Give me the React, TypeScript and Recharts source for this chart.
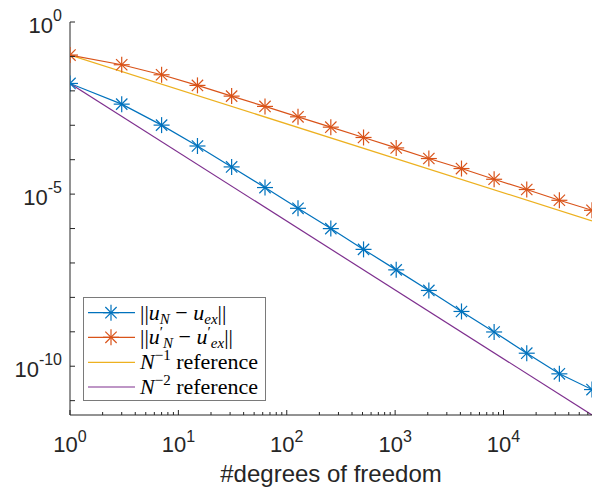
import React from 'react';
import { LineChart, Line, XAxis, YAxis, Legend } from 'recharts';

// degrees of freedom (2^k - 1)
const dofs = [1, 3, 7, 15, 31, 63, 127, 255, 511, 1023, 2047, 4095, 8191, 16383, 32767, 65535];

// ||u_N - u_ex||
const errU = [
  1.64e-2, 4.11e-3, 1.01e-3, 2.5e-4, 6.17e-5, 1.55e-5, 3.87e-6, 9.95e-7,
  2.48e-7, 6.3e-8, 1.59e-8, 3.9e-9, 9.89e-10, 2.39e-10, 6.01e-11, 2.1e-11,
];

// ||u'_N - u'_ex||
const errDu = [
  1.096e-1, 5.73e-2, 2.93e-2, 1.44e-2, 7.03e-3, 3.53e-3, 1.76e-3, 8.81e-4,
  4.42e-4, 2.2e-4, 1.08e-4, 5.53e-5, 2.7e-5, 1.36e-5, 6.62e-6, 3.39e-6,
];

// reference lines (end points)
const refDofs = [1, 65535];
const refN1 = [1.096e-1, 1.67e-6];
const refN2 = [1.64e-2, 3.83e-12];

const xMajorTicks = [1, 10, 100, 1000, 10000];
const yLabelTicks = [1, 1e-5, 1e-10];
const yTicks = [1, 1e-1, 1e-2, 1e-3, 1e-4, 1e-5, 1e-6, 1e-7, 1e-8, 1e-9, 1e-10, 1e-11];

const xTicks: number[] = [];
for (let d = 1; d <= 10000; d *= 10) {
  for (let m = 1; m <= 9; m++) {
    if (d * m <= 65535) xTicks.push(d * m);
  }
}

const colors = {
  u: '#0072BD',
  du: '#D95319',
  n1: '#EDB120',
  n2: '#7E2F8E',
  axis: '#262626',
};

const tickFont = 'Liberation Sans, Arial, sans-serif';
const mathFont = 'Liberation Serif, Times New Roman, serif';

const mainData = dofs.map((n, i) => ({ n, u: errU[i], du: errDu[i] }));
const ref1Data = refDofs.map((n, i) => ({ n, v: refN1[i] }));
const ref2Data = refDofs.map((n, i) => ({ n, v: refN2[i] }));

function exponent(v: number) {
  return String(Math.round(Math.log10(v)));
}

function Asterisk({ cx, cy, color }: { cx: number; cy: number; color: string }) {
  const r = 8;
  const d = r * 0.7071;
  return (
    <g stroke={color} strokeWidth={1.2}>
      <line x1={cx - r} y1={cy} x2={cx + r} y2={cy} />
      <line x1={cx} y1={cy - r} x2={cx} y2={cy + r} />
      <line x1={cx - d} y1={cy - d} x2={cx + d} y2={cy + d} />
      <line x1={cx - d} y1={cy + d} x2={cx + d} y2={cy - d} />
    </g>
  );
}

function makeDot(color: string) {
  return (props: any) => {
    const { cx, cy, index } = props;
    if (cx == null || cy == null) return <g key={index} />;
    return <Asterisk key={index} cx={cx} cy={cy} color={color} />;
  };
}

function XTick(props: any) {
  const { x, y, payload, top } = props;
  const v = payload.value;
  const major = xMajorTicks.includes(v);
  const len = major ? 5 : 3;
  return (
    <g>
      <line x1={x} x2={x} y1={y} y2={top ? y + len : y - len} stroke={colors.axis} strokeWidth={1} />
      {!top && major && (
        <text x={x} y={y + 37} textAnchor="middle" fontSize={22} fill={colors.axis} fontFamily={tickFont}>
          10
          <tspan dy={-10} fontSize={16}>{exponent(v)}</tspan>
        </text>
      )}
    </g>
  );
}

function YTick(props: any) {
  const { x, y, payload, right } = props;
  const v = payload.value;
  const labeled = yLabelTicks.some((t) => Math.abs(Math.log10(t) - Math.log10(v)) < 1e-6);
  return (
    <g>
      <line x1={x} x2={right ? x - 5 : x + 5} y1={y} y2={y} stroke={colors.axis} strokeWidth={1} />
      {!right && labeled && (
        <text x={x - 8} y={y + 11} textAnchor="end" fontSize={22} fill={colors.axis} fontFamily={tickFont}>
          10
          <tspan dy={-12} fontSize={16}>{exponent(v)}</tspan>
        </text>
      )}
    </g>
  );
}

function LegendBox() {
  const rowY = [15.7, 40.3, 65.3, 90];
  const it = { fontStyle: 'italic' } as const;
  const small = 15;
  const rows = [
    {
      color: colors.u,
      marker: true,
      label: (
        <>
          ||<tspan {...it}>u</tspan>
          <tspan {...it} fontSize={small} dy={4}>N</tspan>
          <tspan dy={-4}>{' − '}</tspan>
          <tspan {...it}>u</tspan>
          <tspan {...it} fontSize={small} dy={4}>ex</tspan>
          <tspan dy={-4}>||</tspan>
        </>
      ),
    },
    {
      color: colors.du,
      marker: true,
      label: (
        <>
          ||<tspan {...it}>u</tspan>
          <tspan fontSize={small} dy={-7}>′</tspan>
          <tspan {...it} fontSize={small} dy={11}>N</tspan>
          <tspan dy={-4}>{' − '}</tspan>
          <tspan {...it}>u</tspan>
          <tspan fontSize={small} dy={-7}>′</tspan>
          <tspan {...it} fontSize={small} dy={11}>ex</tspan>
          <tspan dy={-4}>||</tspan>
        </>
      ),
    },
    {
      color: colors.n1,
      marker: false,
      label: (
        <>
          <tspan {...it}>N</tspan>
          <tspan fontSize={small} dy={-9}>−1</tspan>
          <tspan dy={9}>{' reference'}</tspan>
        </>
      ),
    },
    {
      color: colors.n2,
      marker: false,
      label: (
        <>
          <tspan {...it}>N</tspan>
          <tspan fontSize={small} dy={-9}>−2</tspan>
          <tspan dy={9}>{' reference'}</tspan>
        </>
      ),
    },
  ];
  return (
    <svg width={183} height={104} style={{ display: 'block' }}>
      <rect x={0.5} y={0.5} width={182} height={103} fill="#fff" stroke="#7a7a7a" strokeWidth={1} />
      {rows.map((r, i) => (
        <g key={i}>
          <line x1={5} x2={52} y1={rowY[i]} y2={rowY[i]} stroke={r.color} strokeWidth={1.2} />
          {r.marker && <Asterisk cx={28} cy={rowY[i]} color={r.color} />}
          <text
            x={57}
            y={rowY[i] + 7}
            fontSize={22}
            fontFamily={mathFont}
            fill="#000"
            style={{ whiteSpace: 'pre' }}
          >
            {r.label}
          </text>
        </g>
      ))}
    </svg>
  );
}

export default function App() {
  return (
    <div style={{ width: 603, height: 492, background: '#fff', position: 'relative' }}>
      <style>{'body{margin:0}'}</style>
      <LineChart width={603} height={492} data={mainData} margin={{ top: 22, right: 11, left: 0, bottom: 0 }}>
        <XAxis
          xAxisId="b"
          dataKey="n"
          type="number"
          scale="log"
          domain={[1, 65535]}
          allowDataOverflow
          ticks={xTicks}
          interval={0}
          height={77}
          tickSize={0}
          tickMargin={0}
          tick={<XTick />}
          axisLine={{ stroke: colors.axis, strokeWidth: 1 }}
          label={{
            value: '#degrees of freedom',
            position: 'insideBottom',
            offset: 10,
            fontSize: 24,
            fill: colors.axis,
            fontFamily: tickFont,
          }}
        />
        <XAxis
          xAxisId="t"
          orientation="top"
          dataKey="n"
          type="number"
          scale="log"
          domain={[1, 65535]}
          allowDataOverflow
          ticks={xTicks}
          interval={0}
          height={0}
          tickSize={0}
          tickMargin={0}
          tick={<XTick top />}
          axisLine={{ stroke: colors.axis, strokeWidth: 1 }}
        />
        <YAxis
          yAxisId="l"
          type="number"
          scale="log"
          domain={[3.83e-12, 1]}
          allowDataOverflow
          ticks={yTicks}
          interval={0}
          width={70}
          tickSize={0}
          tickMargin={0}
          tick={<YTick />}
          axisLine={{ stroke: colors.axis, strokeWidth: 1 }}
        />
        <YAxis
          yAxisId="r"
          orientation="right"
          type="number"
          scale="log"
          domain={[3.83e-12, 1]}
          allowDataOverflow
          ticks={yTicks}
          interval={0}
          width={0}
          tickSize={0}
          tickMargin={0}
          tick={<YTick right />}
          axisLine={{ stroke: colors.axis, strokeWidth: 1 }}
        />
        <Line
          xAxisId="b"
          yAxisId="l"
          data={ref1Data}
          dataKey="v"
          stroke={colors.n1}
          strokeWidth={1.2}
          dot={false}
          isAnimationActive={false}
        />
        <Line
          xAxisId="b"
          yAxisId="l"
          data={ref2Data}
          dataKey="v"
          stroke={colors.n2}
          strokeWidth={1.2}
          dot={false}
          isAnimationActive={false}
        />
        <Line
          xAxisId="b"
          yAxisId="l"
          dataKey="u"
          stroke={colors.u}
          strokeWidth={1.2}
          dot={makeDot(colors.u)}
          isAnimationActive={false}
        />
        <Line
          xAxisId="b"
          yAxisId="l"
          dataKey="du"
          stroke={colors.du}
          strokeWidth={1.2}
          dot={makeDot(colors.du)}
          isAnimationActive={false}
        />
        <Legend
          layout="vertical"
          align="center"
          verticalAlign="middle"
          content={() => <LegendBox />}
          wrapperStyle={{ left: 83, top: 297, width: 183, height: 104 }}
        />
      </LineChart>
    </div>
  );
}
